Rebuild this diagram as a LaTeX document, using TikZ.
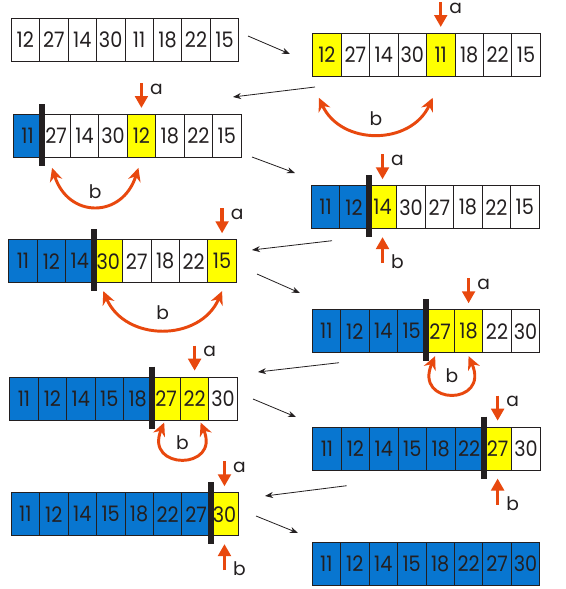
\documentclass[tikz,border=0pt]{standalone}
\usepackage{fontspec}
\setmainfont{Poppins}
\newfontfamily\cellfont{Poppins}[FakeStretch=0.9]
\usetikzlibrary{arrows.meta,calc}

\definecolor{ink}{RGB}{35,31,32}
\definecolor{Bl}{RGB}{8,118,208}
\definecolor{Ye}{RGB}{255,255,0}
\definecolor{Wh}{RGB}{255,255,255}
\definecolor{arrowred}{RGB}{232,72,14}

% one row of eight cells: name, left, top, value/colour list
\newcommand{\cellrow}[4]{%
  \foreach \val/\col [count=\idx] in {#4}
    \node[cell,fill=\col] (#1-\idx) at ({#2+28.45*(\idx-1)},#3) {\val};%
}
% end of the sorted part
\newcommand{\splitbar}[1]{%
  \draw[bar] ($(#1.north east)+(0,-10)$) -- ($(#1.south east)+(0,8)$);%
}
% pointers a (from above) and b (from below)
\newcommand{\marka}[1]{%
  \draw[ptr] ($(#1.north)+(0,-31)$) -- ($(#1.north)+(0,-6)$);
  \node[lab] (#1-a) at ($(#1.north)+(15,-25)$) {a};%
}
\newcommand{\markb}[1]{%
  \draw[ptr] ($(#1.south)+(0,34)$) -- ($(#1.south)+(0,8)$);
  \node[lab] (#1-b) at ($(#1.south)+(15,33)$) {b};%
}

\begin{document}
\begin{tikzpicture}[x=0.75pt, y=-0.75pt,
    cell/.style={draw=ink, line width=0.6pt, minimum width=21.34pt,
      minimum height=32.25pt, inner sep=0pt, anchor=north west,
      text=ink, font=\cellfont\fontsize{16}{16}\selectfont},
    bar/.style={draw=ink, line width=4.5pt},
    ptr/.style={draw=arrowred, line width=2.6pt, -{Triangle[length=9pt,width=9.5pt]}},
    swaparr/.style={draw=arrowred, line width=2.2pt,
      {Stealth[length=10pt,width=9.5pt]}-{Stealth[length=10pt,width=9.5pt]}},
    link/.style={draw=ink, line width=0.6pt, -{Stealth[length=6pt,width=4.5pt]}},
    lab/.style={text=ink, inner sep=0pt, font=\fontsize{14}{14}\selectfont}]

  \path[fill=white] (0,0) rectangle (566,589);

  % the rows
  \cellrow{s1}{10.7}{18}{12/Wh,27/Wh,14/Wh,30/Wh,11/Wh,18/Wh,22/Wh,15/Wh}
  \cellrow{s2}{312.3}{33}{12/Ye,27/Wh,14/Wh,30/Wh,11/Ye,18/Wh,22/Wh,15/Wh}
  \cellrow{s3}{13}{114}{11/Bl,27/Wh,14/Wh,30/Wh,12/Ye,18/Wh,22/Wh,15/Wh}
  \cellrow{s4}{311}{185.3}{11/Bl,12/Bl,14/Ye,30/Wh,27/Wh,18/Wh,22/Wh,15/Wh}
  \cellrow{s5}{8.3}{239.3}{11/Bl,12/Bl,14/Bl,30/Ye,27/Wh,18/Wh,22/Wh,15/Ye}
  \cellrow{s6}{311.7}{309.3}{11/Bl,12/Bl,14/Bl,15/Bl,27/Ye,18/Ye,22/Wh,30/Wh}
  \cellrow{s7}{9.3}{376.7}{11/Bl,12/Bl,14/Bl,15/Bl,18/Bl,27/Ye,22/Ye,30/Wh}
  \cellrow{s8}{312.3}{426.7}{11/Bl,12/Bl,14/Bl,15/Bl,18/Bl,22/Bl,27/Ye,30/Wh}
  \cellrow{s9}{10.7}{492.3}{11/Bl,12/Bl,14/Bl,15/Bl,18/Bl,22/Bl,27/Bl,30/Ye}
  \cellrow{s10}{311.7}{541.7}{11/Bl,12/Bl,14/Bl,15/Bl,18/Bl,22/Bl,27/Bl,30/Bl}

  \splitbar{s3-1} \splitbar{s4-2} \splitbar{s5-3} \splitbar{s6-4}
  \splitbar{s7-5} \splitbar{s8-6} \splitbar{s9-7}

  \marka{s2-5} \marka{s3-5} \marka{s4-3} \marka{s5-8}
  \marka{s6-6} \marka{s7-7} \marka{s8-7} \marka{s9-8}
  \markb{s4-3} \markb{s8-7} \markb{s9-8}

  % swaps
  \draw[swaparr] ($(s2-1.south)+(-8,21)$) .. controls +(22,48) and +(-22,48) ..
    ($(s2-5.south)+(-8,21)$) node[lab,pos=0.5,yshift=11pt] (s2-b) {b};
  \draw[swaparr] ($(s3-2.south)+(-4,10)$) .. controls +(16,51) and +(-16,51) ..
    ($(s3-5.south)+(-3,10)$) node[lab,pos=0.5,yshift=11pt] (s3-b) {b};
  \draw[swaparr] ($(s5-4.south)+(-5,8)$) .. controls +(22,51) and +(-22,51) ..
    ($(s5-8.south)+(0,8)$) node[lab,pos=0.5,yshift=12.5pt] (s5-b) {b};
  \draw[swaparr] ($(s6-5.south)+(-5,3)$) .. controls +(-22,50) and +(22,50) ..
    ($(s6-6.south)+(0,3)$) node[lab,pos=0.5,yshift=13.5pt] (s6-b) {b};
  \draw[swaparr] ($(s7-6.south)+(-2,2)$) .. controls +(-20,48) and +(20,48) ..
    ($(s7-7.south)+(6,2)$) node[lab,pos=0.5,yshift=12pt] (s7-b) {b};

  % steps
  \foreach \sx/\sy/\ex/\ey [count=\idx] in {248/36/290/54, 315/87/233/97,
      252/157/295/173, 332/240.7/252/250, 257/274/300/293, 339/362.7/258/372,
      253/399/296/417, 346.7/485.7/265/496, 256/516/298/533} {
    \coordinate (from\idx) at (\sx,\sy);
    \coordinate (to\idx) at (\ex,\ey);
    \draw[link] (from\idx) -- (to\idx);
  }
\end{tikzpicture}
\end{document}
